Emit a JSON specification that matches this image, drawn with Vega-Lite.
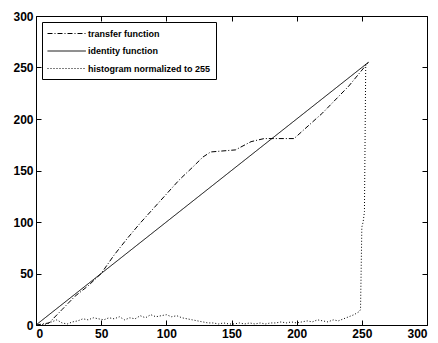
{
  "$schema": "https://vega.github.io/schema/vega-lite/v6.json",
  "width": 391,
  "height": 309,
  "autosize": "none",
  "padding": {"left": 36, "top": 16, "right": 11, "bottom": 18},
  "background": "white",
  "config": {
    "view": {"stroke": "black", "strokeWidth": 1},
    "font": "Liberation Sans",
    "axis": {
      "grid": false, "domain": false, "tickColor": "black", "tickSize": -5,
      "labelColor": "black", "labelFontSize": 12, "labelFont": "Liberation Sans", "labelFontWeight": "bold",
      "labelPadding": 8, "labelOverlap": false, "title": null
    }
  },
  "datasets": {
    "curves": [
      {"series": "transfer function", "x": 0, "y": 0},
      {"series": "transfer function", "x": 10, "y": 2},
      {"series": "transfer function", "x": 20, "y": 15},
      {"series": "transfer function", "x": 30, "y": 28},
      {"series": "transfer function", "x": 40, "y": 38},
      {"series": "transfer function", "x": 50, "y": 50},
      {"series": "transfer function", "x": 60, "y": 68},
      {"series": "transfer function", "x": 70, "y": 84},
      {"series": "transfer function", "x": 80, "y": 99},
      {"series": "transfer function", "x": 90, "y": 113},
      {"series": "transfer function", "x": 100, "y": 127},
      {"series": "transfer function", "x": 110, "y": 141},
      {"series": "transfer function", "x": 120, "y": 153},
      {"series": "transfer function", "x": 128, "y": 163},
      {"series": "transfer function", "x": 134, "y": 168},
      {"series": "transfer function", "x": 153, "y": 170},
      {"series": "transfer function", "x": 165, "y": 178},
      {"series": "transfer function", "x": 175, "y": 181},
      {"series": "transfer function", "x": 198, "y": 181},
      {"series": "transfer function", "x": 220, "y": 206},
      {"series": "transfer function", "x": 240, "y": 232},
      {"series": "transfer function", "x": 255, "y": 255},
      {"series": "identity function", "x": 0, "y": 0},
      {"series": "identity function", "x": 255, "y": 255},
      {"series": "histogram normalized to 255", "x": 0, "y": 0},
      {"series": "histogram normalized to 255", "x": 4, "y": 0},
      {"series": "histogram normalized to 255", "x": 8, "y": 1},
      {"series": "histogram normalized to 255", "x": 12, "y": 3},
      {"series": "histogram normalized to 255", "x": 16, "y": 5},
      {"series": "histogram normalized to 255", "x": 20, "y": 2},
      {"series": "histogram normalized to 255", "x": 24, "y": 1},
      {"series": "histogram normalized to 255", "x": 28, "y": 3},
      {"series": "histogram normalized to 255", "x": 32, "y": 4},
      {"series": "histogram normalized to 255", "x": 36, "y": 6},
      {"series": "histogram normalized to 255", "x": 40, "y": 5},
      {"series": "histogram normalized to 255", "x": 44, "y": 7},
      {"series": "histogram normalized to 255", "x": 48, "y": 6},
      {"series": "histogram normalized to 255", "x": 52, "y": 5},
      {"series": "histogram normalized to 255", "x": 56, "y": 7},
      {"series": "histogram normalized to 255", "x": 60, "y": 6},
      {"series": "histogram normalized to 255", "x": 64, "y": 8},
      {"series": "histogram normalized to 255", "x": 68, "y": 5},
      {"series": "histogram normalized to 255", "x": 72, "y": 7},
      {"series": "histogram normalized to 255", "x": 76, "y": 6},
      {"series": "histogram normalized to 255", "x": 80, "y": 9},
      {"series": "histogram normalized to 255", "x": 84, "y": 7},
      {"series": "histogram normalized to 255", "x": 88, "y": 10},
      {"series": "histogram normalized to 255", "x": 92, "y": 8},
      {"series": "histogram normalized to 255", "x": 96, "y": 9},
      {"series": "histogram normalized to 255", "x": 100, "y": 10},
      {"series": "histogram normalized to 255", "x": 104, "y": 8},
      {"series": "histogram normalized to 255", "x": 108, "y": 9},
      {"series": "histogram normalized to 255", "x": 112, "y": 7},
      {"series": "histogram normalized to 255", "x": 116, "y": 6},
      {"series": "histogram normalized to 255", "x": 120, "y": 5},
      {"series": "histogram normalized to 255", "x": 124, "y": 4},
      {"series": "histogram normalized to 255", "x": 128, "y": 3},
      {"series": "histogram normalized to 255", "x": 132, "y": 2},
      {"series": "histogram normalized to 255", "x": 136, "y": 2},
      {"series": "histogram normalized to 255", "x": 140, "y": 1},
      {"series": "histogram normalized to 255", "x": 144, "y": 2},
      {"series": "histogram normalized to 255", "x": 148, "y": 1},
      {"series": "histogram normalized to 255", "x": 152, "y": 1},
      {"series": "histogram normalized to 255", "x": 156, "y": 2},
      {"series": "histogram normalized to 255", "x": 160, "y": 1},
      {"series": "histogram normalized to 255", "x": 164, "y": 2},
      {"series": "histogram normalized to 255", "x": 168, "y": 1},
      {"series": "histogram normalized to 255", "x": 172, "y": 2},
      {"series": "histogram normalized to 255", "x": 176, "y": 1},
      {"series": "histogram normalized to 255", "x": 180, "y": 2},
      {"series": "histogram normalized to 255", "x": 184, "y": 2},
      {"series": "histogram normalized to 255", "x": 188, "y": 3},
      {"series": "histogram normalized to 255", "x": 192, "y": 2},
      {"series": "histogram normalized to 255", "x": 196, "y": 3},
      {"series": "histogram normalized to 255", "x": 200, "y": 2},
      {"series": "histogram normalized to 255", "x": 204, "y": 3},
      {"series": "histogram normalized to 255", "x": 208, "y": 4},
      {"series": "histogram normalized to 255", "x": 212, "y": 3},
      {"series": "histogram normalized to 255", "x": 216, "y": 5},
      {"series": "histogram normalized to 255", "x": 220, "y": 4},
      {"series": "histogram normalized to 255", "x": 224, "y": 3},
      {"series": "histogram normalized to 255", "x": 228, "y": 5},
      {"series": "histogram normalized to 255", "x": 232, "y": 4},
      {"series": "histogram normalized to 255", "x": 236, "y": 6},
      {"series": "histogram normalized to 255", "x": 240, "y": 8},
      {"series": "histogram normalized to 255", "x": 244, "y": 10},
      {"series": "histogram normalized to 255", "x": 248, "y": 13},
      {"series": "histogram normalized to 255", "x": 249, "y": 15},
      {"series": "histogram normalized to 255", "x": 250, "y": 95},
      {"series": "histogram normalized to 255", "x": 251, "y": 100},
      {"series": "histogram normalized to 255", "x": 252, "y": 110},
      {"series": "histogram normalized to 255", "x": 253, "y": 255}
    ]
  },
  "data": {"name": "curves"},
  "layer": [
    {
      "mark": {"type": "line", "color": "black", "strokeWidth": 1, "clip": true},
      "encoding": {
        "x": {"field": "x", "type": "quantitative", "scale": {"domain": [0, 300], "nice": false}, "axis": {"values": [0, 50, 100, 150, 200, 250, 300], "orient": "bottom"}},
        "y": {"field": "y", "type": "quantitative", "scale": {"domain": [0, 300], "nice": false}, "axis": {"values": [0, 50, 100, 150, 200, 250, 300], "orient": "left"}},
        "strokeDash": {
          "field": "series", "type": "nominal",
          "scale": {"domain": ["transfer function", "identity function", "histogram normalized to 255"], "range": [[5, 2, 1, 2], [1, 0], [1, 2]]},
          "legend": {
            "title": null, "orient": "top-left", "offset": 6,
            "strokeColor": "black", "fillColor": "white", "padding": 5,
            "symbolType": "M-1,0H5.4", "symbolSize": 144, "symbolStrokeColor": "black", "symbolFillColor": "transparent", "symbolStrokeWidth": 1,
            "labelFont": "Liberation Sans", "labelFontSize": 9, "labelFontWeight": "bold", "labelColor": "black",
            "rowPadding": 5.5, "labelOffset": 28
          }
        },
        "order": {"field": "x", "type": "quantitative"}
      }
    },
    {
      "mark": {"type": "line", "opacity": 0},
      "encoding": {
        "x": {"field": "x", "type": "quantitative", "scale": {"domain": [0, 300], "nice": false}, "axis": {"values": [0, 50, 100, 150, 200, 250, 300], "orient": "top", "labels": false}},
        "y": {"field": "y", "type": "quantitative", "scale": {"domain": [0, 300], "nice": false}, "axis": {"values": [0, 50, 100, 150, 200, 250, 300], "orient": "right", "labels": false}}
      }
    }
  ],
  "resolve": {"axis": {"x": "independent", "y": "independent"}}
}
